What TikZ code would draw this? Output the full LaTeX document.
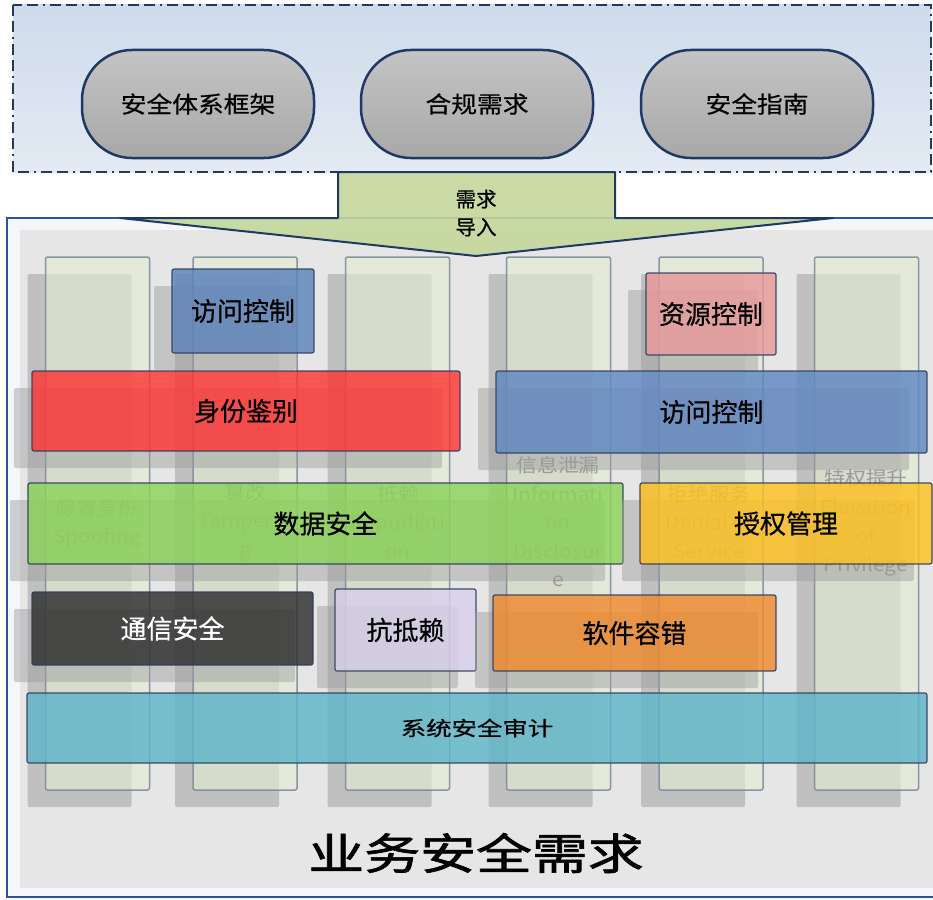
\documentclass[tikz,border=0pt]{standalone}
\usepackage{fontspec}
\setmainfont{Noto Sans CJK SC}
\newfontfamily\medfont{Noto Sans CJK SC}[FakeBold=0.6]
\newfontfamily\heavyfont{Noto Sans CJK SC}[FakeBold=1.4]
\usetikzlibrary{shadows}
\definecolor{topb}{HTML}{1F3A60}
\definecolor{topt}{HTML}{CFDBEB}
\definecolor{topbt}{HTML}{E3EAF3}
\definecolor{ellb}{HTML}{1F3864}
\definecolor{ellt}{HTML}{C4C4C4}
\definecolor{ellbt}{HTML}{A8A8A8}
\definecolor{mainb}{HTML}{2F5597}
\definecolor{mainout}{HTML}{F4F6F9}
\definecolor{mainin}{HTML}{E6E6E6}
\definecolor{colf}{HTML}{E4ECD4}
\definecolor{colb}{HTML}{7F8C9C}
\definecolor{shadowc}{HTML}{9C9C9C}
\definecolor{barb}{HTML}{2E3D5C}
\definecolor{arrf}{HTML}{C4D79B}
\definecolor{ctext}{HTML}{9A9A9A}
\definecolor{cacc}{HTML}{5B82BA}
\definecolor{cres}{HTML}{E89A9A}
\definecolor{cid}{HTML}{FF3535}
\definecolor{cacc2}{HTML}{6088C2}
\definecolor{cdata}{HTML}{8CD458}
\definecolor{cauth}{HTML}{FFC21F}
\definecolor{ccomm}{HTML}{2E2E2E}
\definecolor{cnon}{HTML}{D8D0EA}
\definecolor{csoft}{HTML}{F08A2E}
\definecolor{caudit}{HTML}{5EB4C9}
\newcommand\hsc[2]{\scalebox{#1}[1]{#2}}
\begin{document}
\begin{tikzpicture}[x=1pt,y=-1pt,
  ellbox/.style={rectangle, rounded corners=50pt, minimum width=232pt, minimum height=108pt,
    draw=ellb, line width=2.5pt, top color=ellt, bottom color=ellbt,
    font=\medfont\fontsize{23}{26}\selectfont},
  colbox/.style={rectangle, minimum width=104pt, minimum height=533pt, inner sep=0pt,
    draw=colb, line width=1.5pt, fill=colf, fill opacity=0.62, draw opacity=0.9,
    rounded corners=2pt,
    general shadow={fill=shadowc, opacity=0.5, shadow xshift=-18pt, shadow yshift=-17pt}},
  coltext/.style={text=ctext, align=center, font=\fontsize{19}{28.5}\selectfont},
  plainbar/.style={rectangle, inner sep=0pt, draw=barb, line width=1.2pt, draw opacity=0.9,
    fill opacity=0.82, text opacity=1, rounded corners=2pt,
    font=\medfont\fontsize{26}{30}\selectfont},
  barbox/.style={plainbar,
    general shadow={fill=shadowc, opacity=0.45, shadow xshift=-18pt, shadow yshift=-17pt}},
  arrowst/.style={draw=ellb, line width=2pt, fill=arrf, fill opacity=0.9, line join=round}
]
\useasboundingbox (0,0) rectangle (933,899);
\fill[white] (0,0) rectangle (933,899);

% top dashed frame
\draw[draw=topb, line width=2.5pt, top color=topt, bottom color=topbt,
  dash pattern=on 11pt off 5pt on 11pt off 5pt on 2pt off 5pt] (13,5) rectangle (931,172);
\node[ellbox] (e1) at (198,104) {\hsc{1.12}{安全体系框架}};
\node[ellbox] (e2) at (477,104) {\hsc{1.12}{合规需求}};
\node[ellbox] (e3) at (757,104) {\hsc{1.12}{安全指南}};

% main frame
\draw[draw=mainb, line width=2pt, fill=mainout] (7,218) rectangle (945,897);
\fill[mainin] (20,230) rectangle (945,888);

% import arrow
\draw[arrowst] (338,172) -- (615,172) -- (615,218) -- (833,218) -- (476,256)
  -- (120,218) -- (338,218) -- cycle;
\node[align=center, font=\medfont\fontsize{20.5}{28}\selectfont] (imp) at (476,213) {需求\\导入};

% columns
\node[colbox] (col1) at (97.5,523.5) {};
\node[colbox] (col2) at (245,523.5) {};
\node[colbox] (col3) at (397.5,523.5) {};
\node[colbox] (col4) at (558.5,523.5) {};
\node[colbox] (col5) at (711,523.5) {};
\node[colbox] (col6) at (866.5,523.5) {};

\node[coltext] (t1) at (97,524) {\hsc{1.1}{假冒身份}\\\hsc{1.1}{Spoofing}};
\node[coltext] (t2) at (245,522) {\hsc{1.1}{篡改}\\\hsc{1.1}{Tamperin}\\\hsc{1.1}{g}};
\node[coltext] (t3) at (398,522) {\hsc{1.1}{抵赖}\\\hsc{1.1}{Repudiati}\\\hsc{1.1}{on}};
\node[coltext] (t4) at (558,522) {\hsc{1.1}{信息泄漏}\\\hsc{1.1}{Informati}\\\hsc{1.1}{on}\\\hsc{1.1}{Disclosur}\\\hsc{1.1}{e}};
\node[coltext] (t5) at (709,522) {\hsc{1.1}{拒绝服务}\\\hsc{1.1}{Denial of}\\\hsc{1.1}{Service}};
\node[coltext] (t6) at (866,523) {\hsc{1.1}{特权提升}\\\hsc{1.1}{Elevation}\\\hsc{1.1}{of}\\\hsc{1.1}{Privilege}};

% bars
\node[barbox, fill=cacc, minimum width=142pt, minimum height=84pt] (acc1) at (243,311) {访问控制};
\node[barbox, fill=cres, minimum width=130pt, minimum height=82pt] (res) at (711,314) {资源控制};
\node[barbox, fill=cid, minimum width=428pt, minimum height=80pt] (ident) at (246,411) {身份鉴别};
\node[barbox, fill=cacc2, minimum width=431pt, minimum height=82pt] (acc2) at (711.5,412) {访问控制};
\node[barbox, fill=cdata, minimum width=595pt, minimum height=81pt] (data) at (325.5,523.5) {数据安全};
\node[barbox, fill=cauth, minimum width=292pt, minimum height=81pt] (authz) at (786,523.5) {授权管理};
\node[barbox, fill=ccomm, text=white, minimum width=281pt, minimum height=73pt] (comm) at (172.5,628.5) {通信安全};
\node[barbox, fill=cnon, minimum width=141pt, minimum height=82pt] (nonrep) at (405.5,630) {抗抵赖};
\node[barbox, fill=csoft, minimum width=283pt, minimum height=76pt] (soft) at (634.5,633) {软件容错};
\node[plainbar, fill=caudit, minimum width=900pt, minimum height=70pt,
  font=\medfont\fontsize{20}{24}\selectfont] (audit) at (477,728) {\hsc{1.27}{系统安全审计}};

% title
\node[font=\heavyfont\fontsize{43}{48}\selectfont] (title) at (476,853) {\hsc{1.3}{业务安全需求}};
\end{tikzpicture}
\end{document}
